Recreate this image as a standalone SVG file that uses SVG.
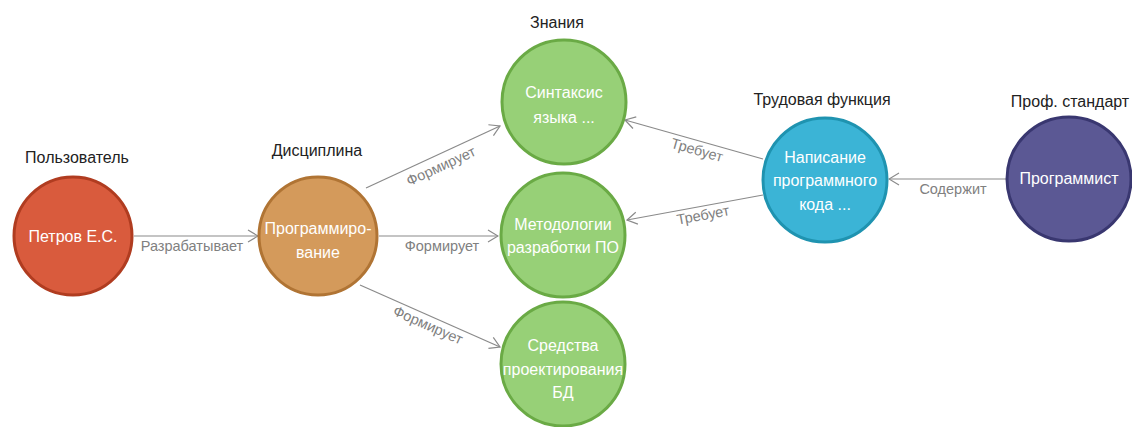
<svg xmlns="http://www.w3.org/2000/svg" width="1132" height="427" viewBox="0 0 1132 427">
<defs>
<style>
.node{stroke-width:3}
.nt{font-family:"Liberation Sans",Arial,sans-serif;font-size:16px;fill:#ffffff;text-anchor:middle}
.title{font-family:"Liberation Sans",Arial,sans-serif;font-size:16px;fill:#222222;text-anchor:middle}
.edge{stroke:#8a8a8a;stroke-width:1.2;fill:none;marker-end:url(#arr)}
.el{font-family:"Liberation Sans",Arial,sans-serif;font-size:14.5px;fill:#808080;text-anchor:middle}
</style>
<marker id="arr" viewBox="0 0 12 14" refX="11" refY="7" markerWidth="12" markerHeight="14" markerUnits="userSpaceOnUse" orient="auto">
<path d="M1,1 L11,7 L1,13" fill="none" stroke="#8a8a8a" stroke-width="1.2"/>
</marker>
</defs>
<rect width="1132" height="427" fill="#ffffff"/>
<g id="connectors">
<line class="edge" x1="134" y1="236" x2="258" y2="236"/>
<line class="edge" x1="366" y1="188" x2="500" y2="126"/>
<line class="edge" x1="379" y1="236" x2="498" y2="236"/>
<line class="edge" x1="360" y1="285" x2="500" y2="347"/>
<line class="edge" x1="763" y1="159" x2="625" y2="120"/>
<line class="edge" x1="763" y1="195" x2="627" y2="220"/>
<line class="edge" x1="1006" y1="179" x2="889" y2="179"/>
<text class="el" x="192" y="251">Разрабатывает</text>
<text class="el" transform="translate(441,166) rotate(-24.8)" y="5">Формирует</text>
<text class="el" x="442" y="251">Формирует</text>
<text class="el" transform="translate(428,325) rotate(23.9)" y="5">Формирует</text>
<text class="el" transform="translate(697,150) rotate(15.8)" y="5">Требует</text>
<text class="el" transform="translate(703,215) rotate(-10.4)" y="5">Требует</text>
<text class="el" x="953" y="194">Содержит</text>
</g>
<g id="n-petrov">
<text class="title" x="77" y="163">Пользователь</text>
<circle class="node" cx="73" cy="236" r="59" fill="#d95b3d" stroke="#b03c20"/>
<text class="nt" x="73" y="242">Петров Е.С.</text>
</g>
<g id="n-prog">
<text class="title" x="317" y="156">Дисциплина</text>
<circle class="node" cx="318" cy="236" r="59" fill="#d49a5b" stroke="#b07434"/>
<text class="nt" x="318" y="234">Программиро-</text>
<text class="nt" x="318" y="258">вание</text>
</g>
<g id="n-syntax">
<text class="title" x="557" y="28">Знания</text>
<circle class="node" cx="564" cy="102" r="62" fill="#97d077" stroke="#6aaa45"/>
<text class="nt" x="564" y="98">Синтаксис</text>
<text class="nt" x="564" y="123">языка ...</text>
</g>
<g id="n-method">
<circle class="node" cx="563" cy="235" r="62" fill="#97d077" stroke="#6aaa45"/>
<text class="nt" x="563" y="230">Методологии</text>
<text class="nt" x="563" y="253">разработки ПО</text>
</g>
<g id="n-tools">
<circle class="node" cx="563" cy="364" r="62" fill="#97d077" stroke="#6aaa45"/>
<text class="nt" x="563" y="351">Средства</text>
<text class="nt" x="563" y="375">проектирования</text>
<text class="nt" x="563" y="398">БД</text>
</g>
<g id="n-write">
<text class="title" x="822" y="105">Трудовая функция</text>
<circle class="node" cx="825" cy="180" r="62" fill="#3bb4d6" stroke="#1f93b0"/>
<text class="nt" x="825" y="163">Написание</text>
<text class="nt" x="825" y="186">программного</text>
<text class="nt" x="825" y="210">кода ...</text>
</g>
<g id="n-programmer">
<text class="title" x="1070" y="107">Проф. стандарт</text>
<circle class="node" cx="1069" cy="179" r="62" fill="#5b5894" stroke="#393770"/>
<text class="nt" x="1069" y="184">Программист</text>
</g>
</svg>
